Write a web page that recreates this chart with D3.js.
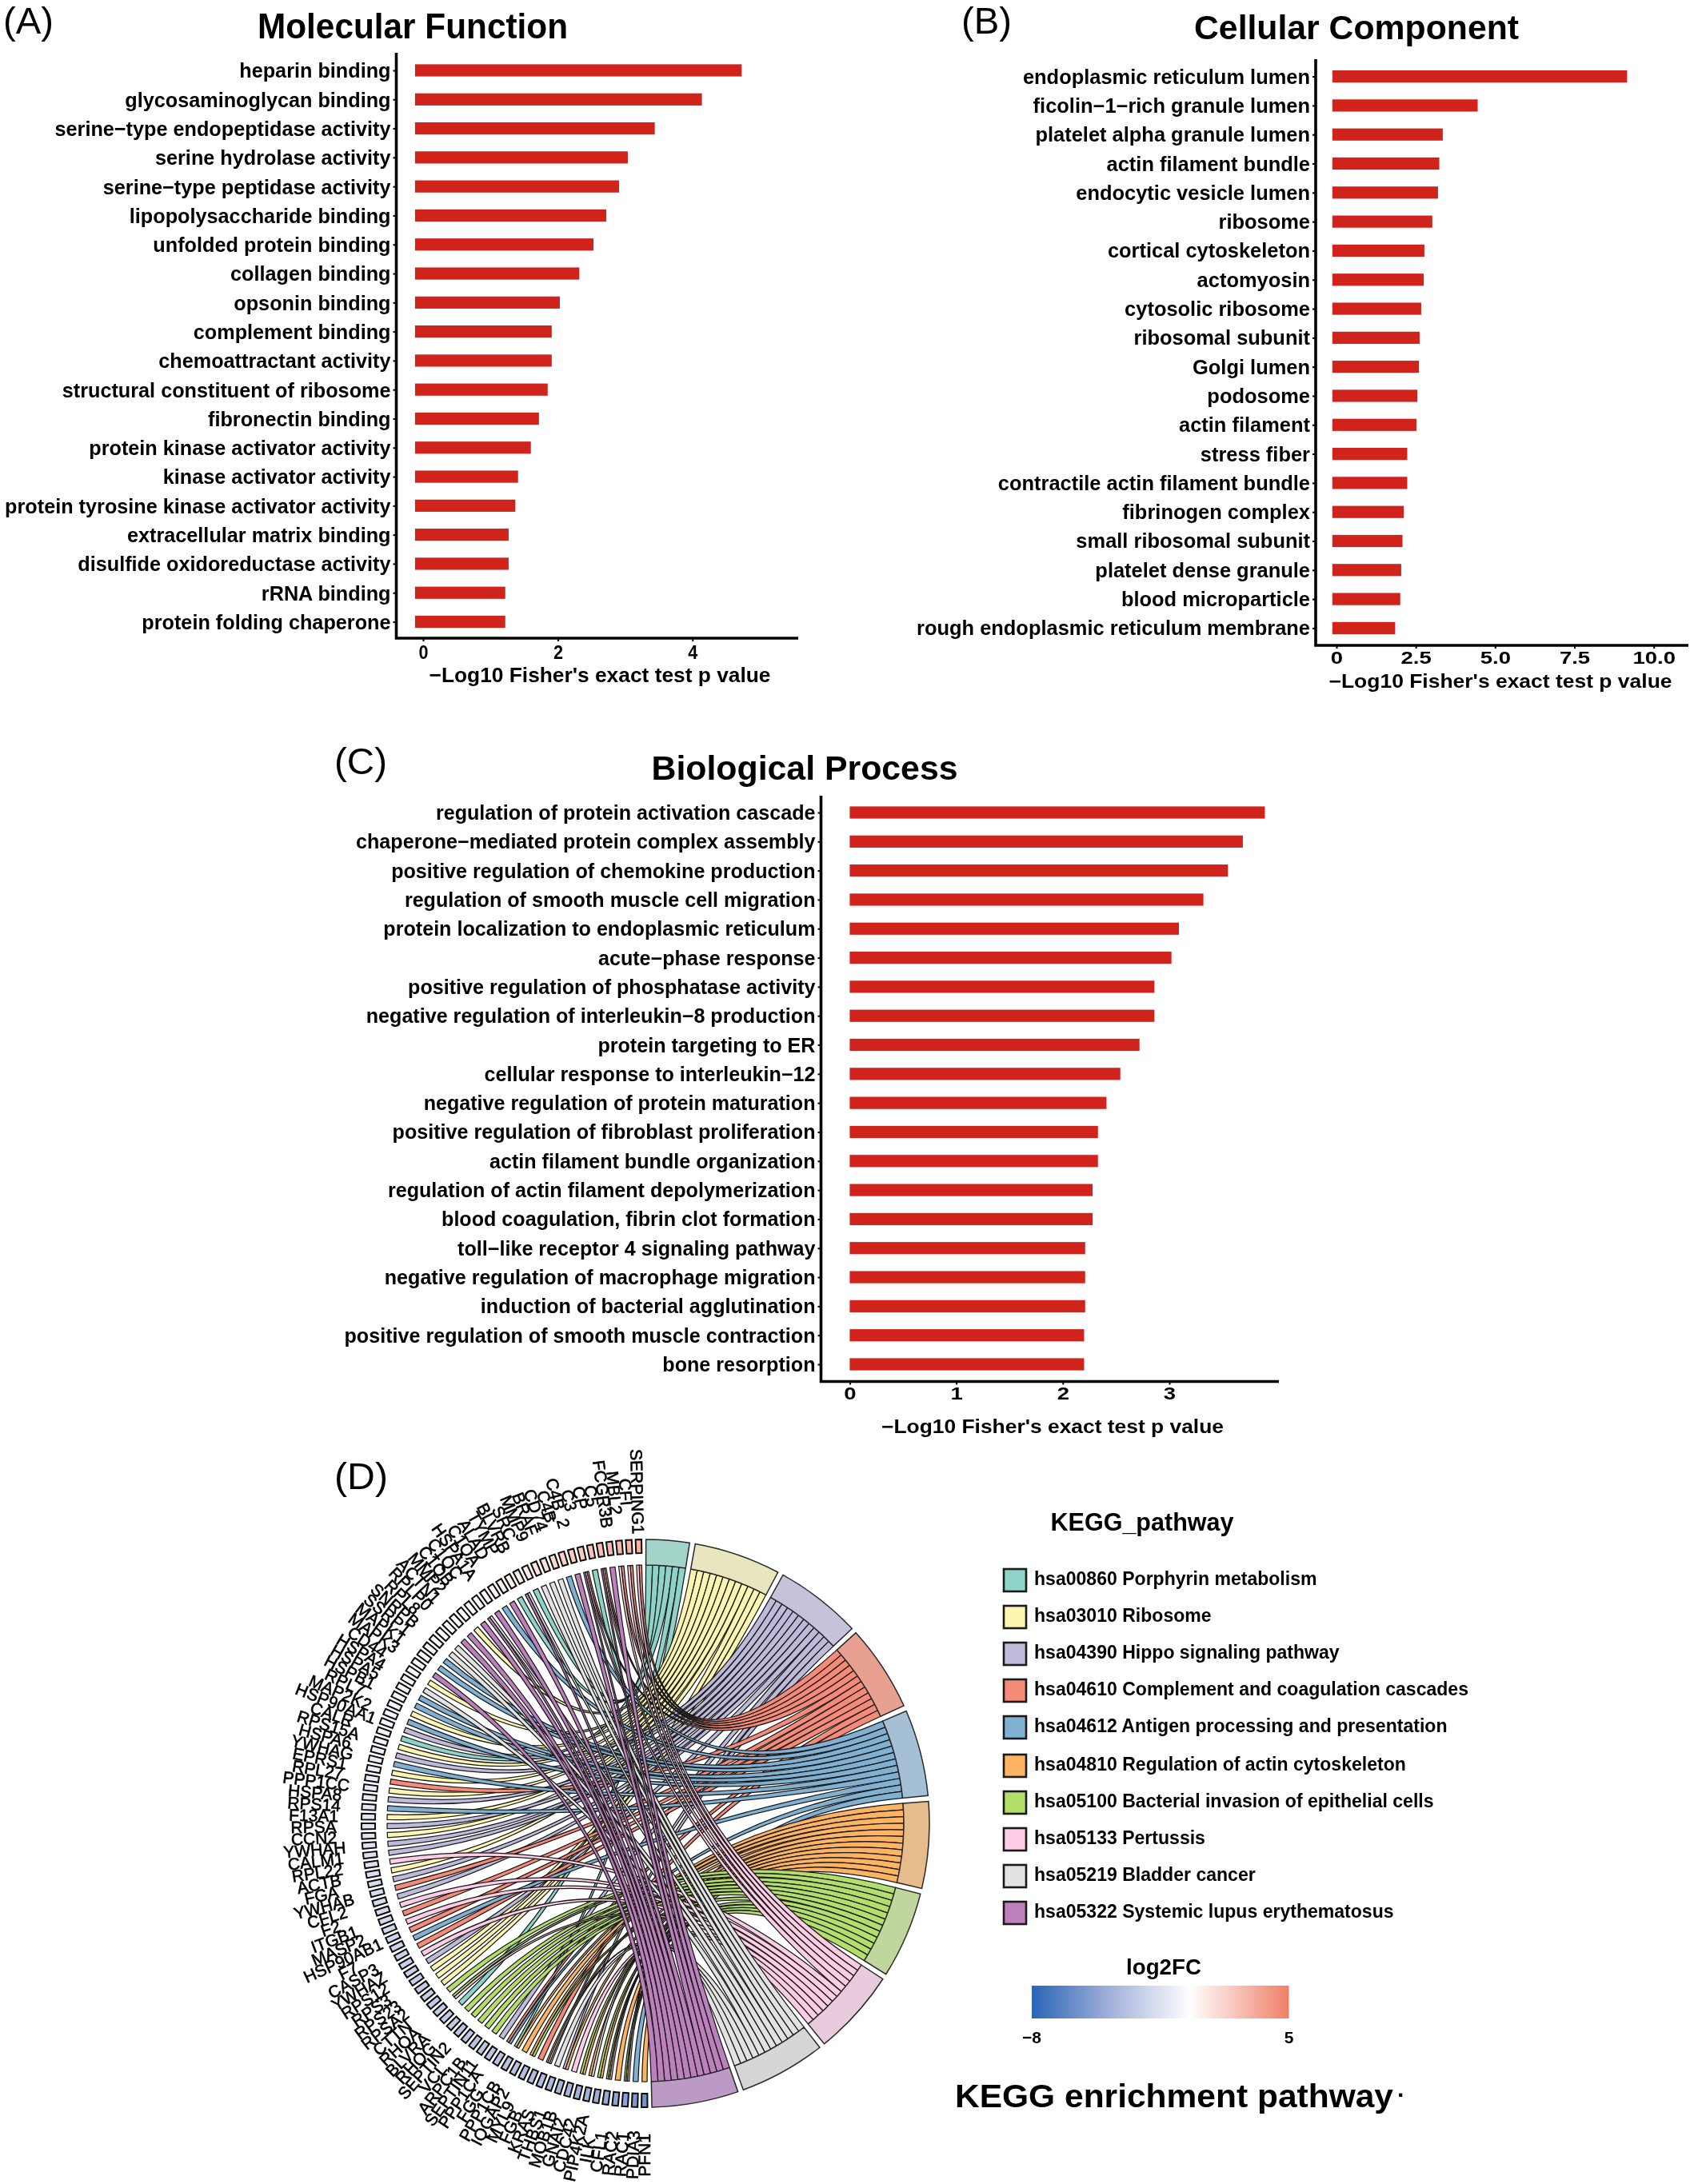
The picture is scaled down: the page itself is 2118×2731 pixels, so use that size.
<!DOCTYPE html>
<html><head><meta charset="utf-8">
<script src="https://cdn.jsdelivr.net/npm/d3@7"></script>
<style>
html,body{margin:0;padding:0;background:#fff}
svg{display:block;filter:blur(0.5px)}
text{font-family:"Liberation Sans",Arial,sans-serif;fill:#000}
</style></head><body>
<script>
// ---------- Panel data ----------
const mfTerms=["heparin binding","glycosaminoglycan binding","serine−type endopeptidase activity","serine hydrolase activity","serine−type peptidase activity","lipopolysaccharide binding","unfolded protein binding","collagen binding","opsonin binding","complement binding","chemoattractant activity","structural constituent of ribosome","fibronectin binding","protein kinase activator activity","kinase activator activity","protein tyrosine kinase activator activity","extracellular matrix binding","disulfide oxidoreductase activity","rRNA binding","protein folding chaperone"];
const mfValues=[4.73,4.14,3.44,3.04,2.91,2.72,2.53,2.32,2.03,1.91,1.91,1.85,1.72,1.6,1.41,1.37,1.27,1.27,1.22,1.22];
const ccTerms=["endoplasmic reticulum lumen","ficolin−1−rich granule lumen","platelet alpha granule lumen","actin filament bundle","endocytic vesicle lumen","ribosome","cortical cytoskeleton","actomyosin","cytosolic ribosome","ribosomal subunit","Golgi lumen","podosome","actin filament","stress fiber","contractile actin filament bundle","fibrinogen complex","small ribosomal subunit","platelet dense granule","blood microparticle","rough endoplasmic reticulum membrane"];
const ccValues=[9.16,4.45,3.35,3.24,3.2,3.02,2.77,2.75,2.67,2.62,2.6,2.55,2.52,2.23,2.23,2.12,2.08,2.04,2.01,1.85];
const bpTerms=["regulation of protein activation cascade","chaperone−mediated protein complex assembly","positive regulation of chemokine production","regulation of smooth muscle cell migration","protein localization to endoplasmic reticulum","acute−phase response","positive regulation of phosphatase activity","negative regulation of interleukin−8 production","protein targeting to ER","cellular response to interleukin−12","negative regulation of protein maturation","positive regulation of fibroblast proliferation","actin filament bundle organization","regulation of actin filament depolymerization","blood coagulation, fibrin clot formation","toll−like receptor 4 signaling pathway","negative regulation of macrophage migration","induction of bacterial agglutination","positive regulation of smooth muscle contraction","bone resorption"];
const bpValues=[3.897,3.69,3.55,3.32,3.09,3.02,2.86,2.86,2.72,2.54,2.41,2.33,2.33,2.28,2.28,2.21,2.21,2.21,2.2,2.2];
const mfTicks=[0,2,4], ccTicks=[0,2.5,5,7.5,10], bpTicks=[0,1,2,3];
const xTitle="−Log10 Fisher's exact test p value";

// ---------- Chord data ----------
const pathways=["hsa00860 Porphyrin metabolism","hsa03010 Ribosome","hsa04390 Hippo signaling pathway","hsa04610 Complement and coagulation cascades","hsa04612 Antigen processing and presentation","hsa04810 Regulation of actin cytoskeleton","hsa05100 Bacterial invasion of epithelial cells","hsa05133 Pertussis","hsa05219 Bladder cancer","hsa05322 Systemic lupus erythematosus"];
const ribbonColors=["#8DD3C7","#FBF5B0","#BEBADA","#F58A78","#80B1D3","#FDB462","#B3DE69","#FCCDE5","#E2E2E2","#BC80BD"];
const bandColors=["#A3D4C9","#E8E6BE","#C5C3DC","#E8A090","#A5C0D5","#E6BC8C","#BFD79C","#E8CBDC","#D6D6D6","#BB9BC6"];
const genes=["SERPING1","CFI","MBL2","FCGR3B","C5","CP","C3","C4B_2","C4B","CD74","BRAF","MMP9","SRC","BLVRB","TYMP","ALAD","C1QA","HSPA1A","C1QC","C1QB","MMP2","ACTN1","RPLP0","RPL8","SNRPB","SSRP1","MAPK1","MAPK3","CD44","HSPA4","HSPA5","HSPB1","RPL7","MAP2K2","HSP90AA1","CALR","RPS15A","HSPA6","YWHAG","EPRS1","RPL27","PPP1CC","HSPA8","RPS14","F13A1","RPSA","CCN2","YWHAH","CALM1","RPL22","ACTB","FGA","YWHAB","CFL2","F2","ITGB1","MASP2","HSP90AB1","F7","CASP3","YWHAZ","RPS12","RPS3","RPS23","RPSA2","CTTN","RHOA","BLVRA","RHOG","SEPTIN2","VCL","ARPC1B","SEPTIN11","PPP1CA","FGG","PPP1CB","IQGAP2","MYL9","FGB","KRAS","THBS1","MOB1B","GNAI2","CDC42","PIP4K2A","ILK","CFL1","RAC2","RAC1","PDIA3","PFN1"];
const geneLinks=["3,7","3,7","3,7","9","3,7,9","0","3,7,9","9","4","8","8","8","0","8,9","0","9","4","9","8,9","9","1","9","9","8","8","4","4","9","1","8","4","4","1","4","2","0","1","2","4","1","3","1","2","4","1","2","1","2","2","7","1","2","3","2","7","3","7","3","4","3","7","2","1","1","1","6","6,7","0","6","6","6","6","6","2","3,4","0,5","5","5,6","3","5,8,2","8","2,5","7","6,5","5,8","6,5","6,5,7","5","6,5,8","4","5"];
const log2FC=[3.2,3.0,2.8,2.7,2.5,2.3,2.1,2.0,1.8,1.5,1.3,1.1,0.9,0.7,0.5,0.4,0.3,0.2,0.15,0.1,0.05,-0.05,-0.1,-0.1,-0.15,-0.2,-0.2,-0.25,-0.3,-0.3,-0.35,-0.4,-0.45,-0.5,-0.55,-0.6,-0.7,-0.75,-0.8,-0.9,-1.0,-1.1,-1.15,-1.2,-1.3,-1.35,-1.4,-1.5,-1.55,-1.6,-1.7,-1.75,-1.8,-1.85,-1.9,-2.0,-2.0,-2.1,-2.2,-2.3,-2.4,-2.5,-2.5,-2.6,-2.6,-2.7,-2.7,-2.8,-2.8,-2.9,-2.9,-3.0,-3.0,-3.1,-3.1,-3.2,-3.2,-3.3,-3.4,-3.5,-3.6,-3.7,-3.8,-3.9,-4.0,-4.2,-4.4,-4.6,-4.8,-5.2,-5.6];
const colorDomain=[-8,-4,0,5], colorRange=["#2A65B5","#A3B1DA","#FFFFFF","#EF7F68"];

const W=2118,H=2731;
const svg=d3.select("body").append("svg").attr("width",W).attr("height",H).attr("viewBox",[0,0,W,H]);
const bold="700";
function put(t,x,y,size,opts={}){
  const s=svg.append("text").attr("x",x).attr("y",y).attr("font-size",size)
    .attr("font-weight",opts.weight||bold).attr("text-anchor",opts.anchor||"middle").text(t);
  if(opts.width){s.attr("textLength",opts.width).attr("lengthAdjust","spacingAndGlyphs");}
  return s;
}
function squeeze(sel,sx){
  sel.each(function(){
    const l=this.getComputedTextLength();
    d3.select(this).attr("textLength",l*sx).attr("lengthAdjust","spacingAndGlyphs");
  });
}

// ---------- Bar panels ----------
function barPanel(p){
  const x=d3.scaleLinear().domain([0,1]).range([p.x0,p.x0+p.perUnit]);
  const y=d3.scalePoint().domain(p.terms).range([p.yFirst,p.yLast]);
  const g=svg.append("g");
  g.selectAll("rect").data(p.values).join("rect")
    .attr("x",x(p.base)).attr("width",d=>x(d)-x(p.base))
    .attr("y",(d,i)=>y(p.terms[i])-7.6).attr("height",15.2)
    .attr("fill","#CF231C");
  const yA=g.append("g").attr("transform",`translate(${p.axisX},0)`)
    .call(d3.axisLeft(y).tickSize(4).tickPadding(3));
  yA.select(".domain").remove();
  yA.selectAll(".tick line").attr("stroke","#000").attr("stroke-width",2);
  const labs=yA.selectAll(".tick text").attr("font-size",p.labelSize).attr("font-weight",bold)
    .attr("font-family",'"Liberation Sans",Arial,sans-serif').attr("fill","#000").attr("dy","0.34em");
  let refLen=0; labs.each(function(){ if(this.textContent===p.refLabel) refLen=this.getComputedTextLength(); });
  squeeze(labs,p.refWidth/refLen);
  const xA=g.append("g").attr("transform",`translate(0,${p.axisY})`)
    .call(d3.axisBottom(x).tickValues(p.ticks).tickFormat(p.fmt).tickSize(4).tickPadding(p.tickPad));
  xA.select(".domain").remove();
  xA.selectAll(".tick line").attr("stroke","#000").attr("stroke-width",2);
  const tl=xA.selectAll(".tick text").attr("font-size",p.tickSize).attr("font-weight",bold)
    .attr("font-family",'"Liberation Sans",Arial,sans-serif').attr("fill","#000");
  if(p.tickStretch) squeeze(tl,p.tickStretch);
  g.append("path").attr("d",d3.line()([[p.axisX,p.axisTop],[p.axisX,p.axisY],[p.axisRight,p.axisY]]))
    .attr("fill","none").attr("stroke","#000").attr("stroke-width",3.6);
  put(xTitle,p.titleX,p.titleY,p.titleSize,{width:p.titleW});
  put(p.heading,p.headX,p.headY,p.headSize,{width:p.headW});
  put(p.tag,p.tagX,p.tagY,47,{weight:"400",anchor:"start",width:p.tagW});
}
barPanel({terms:mfTerms,values:mfValues,ticks:mfTicks,fmt:d3.format("d"),x0:529,perUnit:84.2,base:-0.12,yFirst:88,yLast:777.5,axisX:495.5,axisY:798,axisTop:66,axisRight:998,labelSize:26,refLabel:"serine−type endopeptidase activity",refWidth:420,tickSize:24,tickPad:5,tickStretch:0.9,titleX:750,titleY:853,titleSize:26,titleW:427,heading:"Molecular Function",headX:516,headY:48,headSize:45,headW:388,tag:"(A)",tagX:4,tagY:42,tagW:63});
barPanel({terms:ccTerms,values:ccValues,ticks:ccTicks,fmt:d=>d===0?"0":d3.format(".1f")(d),x0:1671,perUnit:39.67,base:-0.13,yFirst:95.6,yLast:785.4,axisX:1645,axisY:807,axisTop:74,axisRight:2111,labelSize:25,refLabel:"rough endoplasmic reticulum membrane",refWidth:492,tickSize:22,tickPad:3,tickStretch:1.25,titleX:1876,titleY:860,titleSize:24,titleW:429,heading:"Cellular Component",headX:1696,headY:49,headSize:42,headW:406,tag:"(B)",tagX:1202,tagY:42,tagW:63});
barPanel({terms:bpTerms,values:bpValues,ticks:bpTicks,fmt:d3.format("d"),x0:1062.4,perUnit:133.2,base:0,yFirst:1016,yLast:1706,axisX:1026.5,axisY:1727.5,axisTop:995,axisRight:1599,labelSize:25,refLabel:"positive regulation of smooth muscle contraction",refWidth:589,tickSize:22,tickPad:3,tickStretch:1.25,titleX:1316,titleY:1792,titleSize:24,titleW:428,heading:"Biological Process",headX:1006,headY:975,headSize:42,headW:383,tag:"(C)",tagX:418,tagY:968,tagW:66});

// ---------- Chord ----------
const cx=807,cy=2280,rRibbon=323,rBand=355,rCellIn=338,rCellOut=355,rLabel=415;
const rad=Math.PI/180;
const chord=svg.append("g").attr("transform",`translate(${cx},${cy})`);
const links=geneLinks.map(s=>s.split(",").map(Number));
const counts=pathways.map((_,k)=>d3.sum(links,l=>l.includes(k)?1:0));
const gapDeg=1.15, startDeg=0.1, endDeg=178.7;
const perLink=(endDeg-startDeg-gapDeg*(pathways.length-1))/d3.sum(counts);
let acc=startDeg;
const sectors=counts.map(c=>{const s=acc;acc+=c*perLink+gapDeg;return {start:s,end:s+c*perLink};});
const geneAngle=d3.scaleLinear().domain([0,genes.length-1]).range([1.4,179.8]);
const cellW=1.2, endW=1.15;
const ribbon=d3.ribbon();
const ribbonData=[];
pathways.forEach((_,k)=>{
  let n=0;
  links.forEach((l,g)=>{
    const j=l.indexOf(k);
    if(j<0) return;
    const c=geneAngle(g), w=endW/l.length, a0=c-endW/2+j*w;
    const s0=sectors[k].start+n*perLink;
    ribbonData.push({k,source:{startAngle:-(a0+w)*rad,endAngle:-a0*rad,radius:rRibbon},
                       target:{startAngle:s0*rad,endAngle:(s0+perLink)*rad,radius:rRibbon}});
    n++;
  });
});
chord.append("g").selectAll("path").data(ribbonData).join("path")
  .attr("d",ribbon).attr("fill",d=>ribbonColors[d.k]).attr("stroke","#181818").attr("stroke-width",1.25);
chord.append("g").selectAll("path").data(sectors).join("path")
  .attr("d",d3.arc().innerRadius(rRibbon).outerRadius(rBand).startAngle(d=>d.start*rad).endAngle(d=>d.end*rad))
  .attr("fill",(d,i)=>bandColors[i]).attr("stroke","#2a2a2a").attr("stroke-width",1.5);
const fcColor=d3.scaleLinear().domain(colorDomain).range(colorRange);
chord.append("g").selectAll("path").data(genes).join("path")
  .attr("d",d3.arc().innerRadius(rCellIn).outerRadius(rCellOut)
     .startAngle((d,i)=>-(geneAngle(i)+cellW/2)*rad).endAngle((d,i)=>-(geneAngle(i)-cellW/2)*rad))
  .attr("fill",(d,i)=>fcColor(log2FC[i])).attr("stroke","#0c0c0c").attr("stroke-width",2);
chord.append("g").selectAll("text").data(genes).join("text")
  .attr("transform",(d,i)=>{const t=geneAngle(i);return `rotate(${-t}) translate(0,${-rLabel}) rotate(${90})`;})
  .attr("text-anchor","middle").attr("dominant-baseline","central")
  .attr("font-size",21).attr("stroke","#000").attr("stroke-width",0.6).text(d=>d);

// ---------- Legend ----------
const legendY=[1976,2022,2068,2114,2160,2208,2254,2300,2346,2392];
const legend=svg.append("g");
legend.selectAll("rect").data(pathways).join("rect")
  .attr("x",1255).attr("y",(d,i)=>legendY[i]-14).attr("width",28).attr("height",28)
  .attr("fill",(d,i)=>ribbonColors[i]).attr("stroke","#1a1a1a").attr("stroke-width",2.6);
const legT=legend.selectAll("text").data(pathways).join("text")
  .attr("x",1293).attr("y",(d,i)=>legendY[i]+6).attr("font-size",23).attr("font-weight",bold).text(d=>d);
let lref=0; legT.each(function(){ if(this.textContent===pathways[3]) lref=this.getComputedTextLength(); });
squeeze(legT,543/lref);
put("KEGG_pathway",1428,1914,31,{width:229});

const barX=d3.scaleLinear().domain([-8,5]).range([1290,1611.5]);
const grad=svg.append("defs").append("linearGradient").attr("id","fc").attr("x1",0).attr("x2",1).attr("y1",0).attr("y2",0);
grad.selectAll("stop").data(colorDomain).join("stop")
  .attr("offset",d=>(barX(d)-barX(-8))/(barX(5)-barX(-8))).attr("stop-color",(d,i)=>colorRange[i]);
svg.append("rect").attr("x",barX(-8)).attr("width",barX(5)-barX(-8)).attr("y",2483).attr("height",41).attr("fill","url(#fc)");
put("log2FC",1455,2469,28,{width:94});
put("−8",barX(-8),2555,21);
put("5",barX(5),2555,21);
put("KEGG enrichment pathway",1468,2635,41,{width:548});
put("·",1752,2630,30);
put("(D)",418,1862,47,{weight:"400",anchor:"start",width:67});
</script></body></html>
